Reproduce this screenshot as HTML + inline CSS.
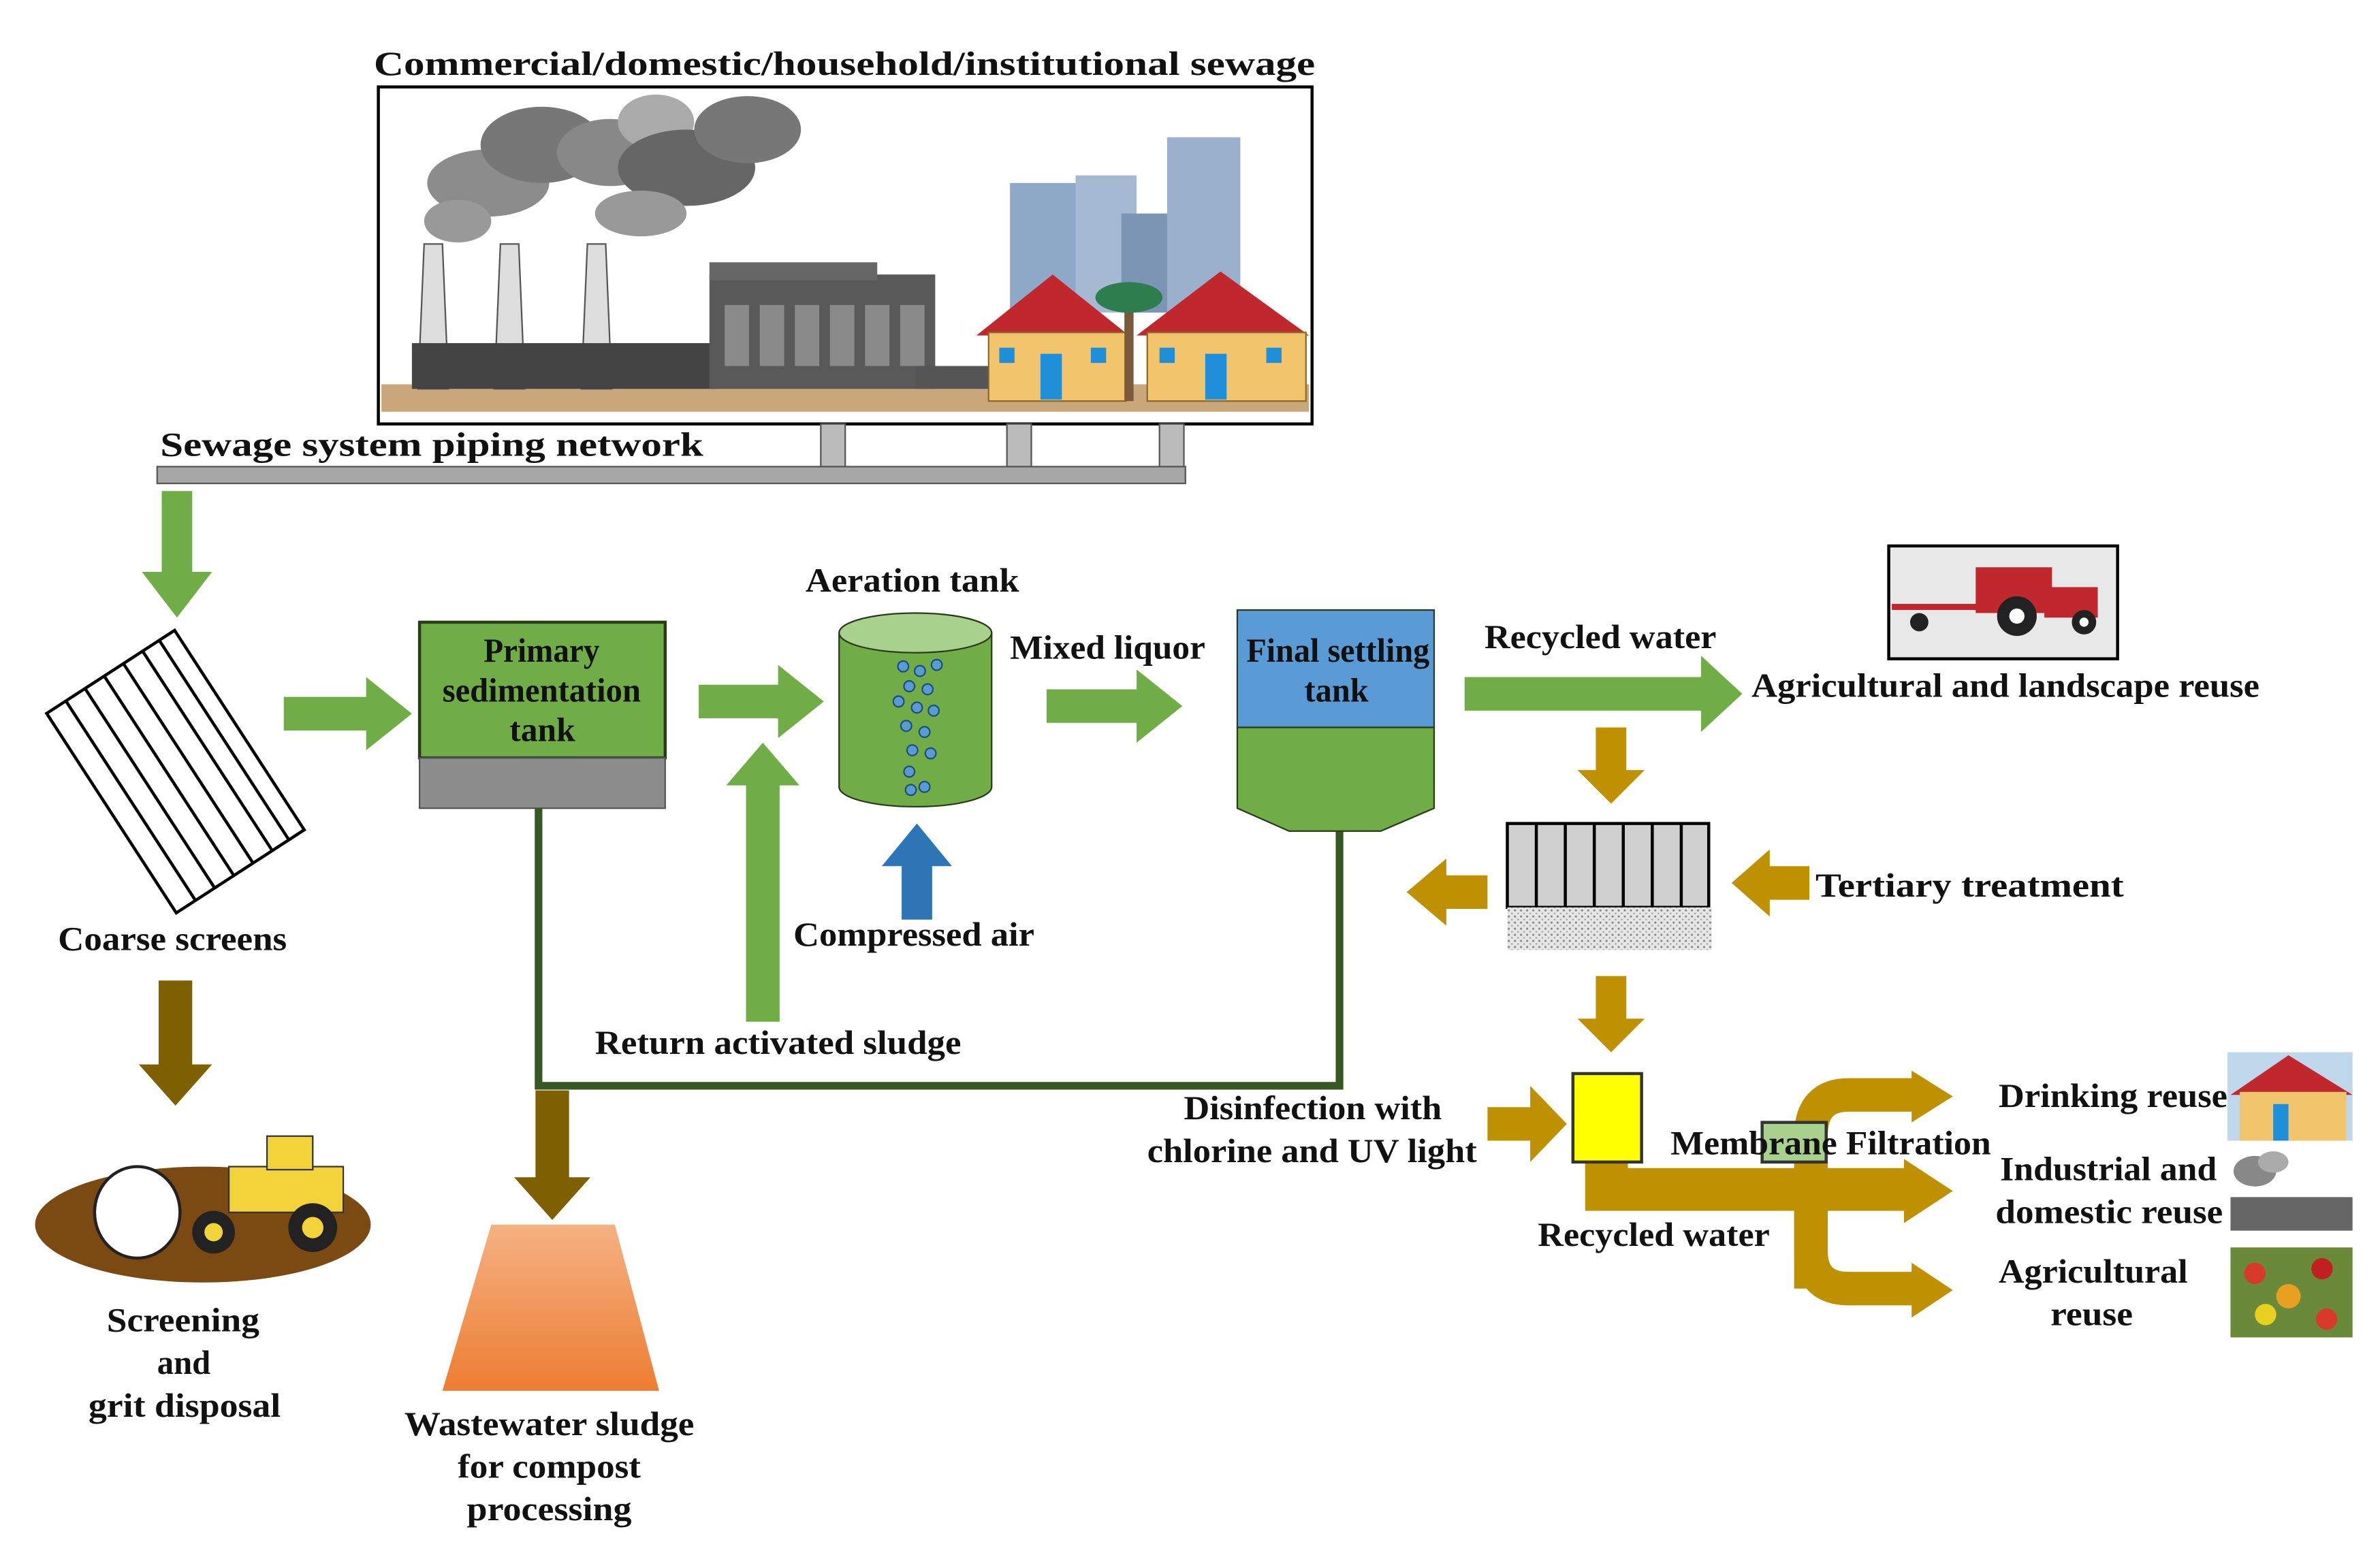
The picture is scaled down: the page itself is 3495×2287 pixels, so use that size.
<!DOCTYPE html>
<html><head><meta charset="utf-8"><style>
html,body{margin:0;padding:0;background:#fff;}
svg{display:block;}
text{font-family:"Liberation Serif",serif;font-weight:bold;font-size:22px;fill:#111;}
</style></head><body>
<svg width="3495" height="2287" viewBox="0 0 1560 1021" preserveAspectRatio="none" xmlns="http://www.w3.org/2000/svg">
<defs>
<linearGradient id="og" x1="0" y1="0" x2="0" y2="1"><stop offset="0" stop-color="#F4B183"/><stop offset="1" stop-color="#ED7D31"/></linearGradient>
<pattern id="dots" width="4" height="4" patternUnits="userSpaceOnUse"><rect width="4" height="4" fill="#e6e6e6"/><circle cx="1" cy="1" r="0.7" fill="#888"/><circle cx="3" cy="3" r="0.6" fill="#aaa"/></pattern>
</defs>

<text x="245" y="49" font-size="23" textLength="617" lengthAdjust="spacingAndGlyphs">Commercial/domestic/household/institutional  sewage</text>
<rect x="248" y="57" width="612" height="221" fill="#fff" stroke="#000" stroke-width="2"/>
<rect x="250" y="252" width="608" height="18" fill="#C9A77A"/>
<g fill="#8c8c8c">
<ellipse cx="320" cy="120" rx="40" ry="22"/><ellipse cx="355" cy="95" rx="40" ry="25" fill="#777"/><ellipse cx="300" cy="145" rx="22" ry="14" fill="#999"/>
<ellipse cx="400" cy="100" rx="35" ry="22" fill="#888"/><ellipse cx="430" cy="80" rx="25" ry="18" fill="#aaa"/>
<ellipse cx="450" cy="110" rx="45" ry="25" fill="#666"/><ellipse cx="490" cy="85" rx="35" ry="22" fill="#777"/><ellipse cx="420" cy="140" rx="30" ry="15" fill="#999"/>
</g>
<polygon points="278,160 290,160 294,255 274,255" fill="#ddd" stroke="#555"/>
<polygon points="328,160 340,160 344,255 324,255" fill="#ddd" stroke="#555"/>
<polygon points="385,160 397,160 401,255 381,255" fill="#ddd" stroke="#555"/>
<rect x="270" y="225" width="200" height="30" fill="#444"/>
<rect x="465" y="180" width="148" height="75" fill="#595959"/>
<rect x="465" y="172" width="110" height="12" fill="#666"/>
<g fill="#8a8a8a"><rect x="475" y="200" width="16" height="40"/><rect x="498" y="200" width="16" height="40"/><rect x="521" y="200" width="16" height="40"/><rect x="544" y="200" width="16" height="40"/><rect x="567" y="200" width="16" height="40"/><rect x="590" y="200" width="16" height="40"/></g>
<rect x="600" y="240" width="55" height="15" fill="#555"/>
<rect x="662" y="120" width="45" height="85" fill="#8EA9C8"/>
<rect x="705" y="115" width="40" height="90" fill="#A6B9D3"/>
<rect x="735" y="140" width="35" height="65" fill="#7C95B5"/>
<rect x="765" y="90" width="48" height="115" fill="#9AB0CC"/>
<polygon points="640,220 690,180 740,220" fill="#C0282E"/>
<rect x="648" y="218" width="90" height="45" fill="#F2C46B" stroke="#8a6a2a"/>
<rect x="682" y="232" width="14" height="30" fill="#1E8FD8"/>
<rect x="655" y="228" width="10" height="10" fill="#1E8FD8"/><rect x="715" y="228" width="10" height="10" fill="#1E8FD8"/>
<polygon points="745,220 800,178 858,220" fill="#C0282E"/>
<rect x="752" y="218" width="104" height="45" fill="#F2C46B" stroke="#8a6a2a"/>
<rect x="790" y="232" width="14" height="30" fill="#1E8FD8"/>
<rect x="760" y="228" width="10" height="10" fill="#1E8FD8"/><rect x="830" y="228" width="10" height="10" fill="#1E8FD8"/>
<rect x="737" y="195" width="6" height="68" fill="#7a5a3a"/>
<ellipse cx="740" cy="195" rx="22" ry="10" fill="#2E7D4F"/>
<rect x="538" y="278" width="16" height="28" fill="#bbb" stroke="#555"/>
<rect x="660" y="278" width="16" height="28" fill="#bbb" stroke="#555"/>
<rect x="760" y="278" width="16" height="28" fill="#bbb" stroke="#555"/>
<text x="105" y="299" font-size="23" textLength="356" lengthAdjust="spacingAndGlyphs">Sewage system piping network</text>
<rect x="103" y="306" width="674" height="11" fill="#A6A6A6" stroke="#555"/>

<polygon points="106,322 126,322 126,375 139,375 116,405 93,375 106,375" fill="#70AD47"/>
<g transform="rotate(-33 115 506)">
<rect x="65" y="428" width="100" height="156" fill="#fff" stroke="#000" stroke-width="2"/>
<g stroke="#000" stroke-width="2"><line x1="80" y1="428" x2="80" y2="584"/><line x1="95" y1="428" x2="95" y2="584"/><line x1="110" y1="428" x2="110" y2="584"/><line x1="125" y1="428" x2="125" y2="584"/><line x1="140" y1="428" x2="140" y2="584"/><line x1="153" y1="428" x2="153" y2="584"/></g>
</g>
<text x="38" y="623" textLength="150" lengthAdjust="spacingAndGlyphs">Coarse screens</text>
<polygon points="104,643 126,643 126,698 139,698 115,725 91,698 104,698" fill="#7F6000"/>
<ellipse cx="133" cy="803" rx="110" ry="38" fill="#7B4A12"/>
<ellipse cx="90" cy="795" rx="28" ry="30" fill="#fff" stroke="#222" stroke-width="2"/>
<rect x="150" y="765" width="75" height="30" fill="#F2D43A" stroke="#333"/>
<rect x="175" y="745" width="30" height="22" fill="#F2D43A" stroke="#333"/>
<circle cx="140" cy="808" r="14" fill="#222"/><circle cx="140" cy="808" r="6" fill="#F2D43A"/>
<circle cx="205" cy="805" r="16" fill="#222"/><circle cx="205" cy="805" r="7" fill="#F2D43A"/>
<text x="70" y="873" textLength="100" lengthAdjust="spacingAndGlyphs">Screening</text>
<text x="103" y="901" textLength="35" lengthAdjust="spacingAndGlyphs">and</text>
<text x="58" y="929" textLength="126" lengthAdjust="spacingAndGlyphs">grit disposal</text>

<polygon points="186,457 240,457 240,444 270,468 240,492 240,479 186,479" fill="#70AD47"/>
<rect x="275" y="408" width="161" height="89" fill="#70AD47" stroke="#2b3b1a" stroke-width="2"/>
<rect x="275" y="497" width="161" height="33" fill="#8c8c8c" stroke="#555"/>
<text x="317" y="434" textLength="76" lengthAdjust="spacingAndGlyphs">Primary</text>
<text x="290" y="460" textLength="130" lengthAdjust="spacingAndGlyphs">sedimentation</text>
<text x="334" y="486" textLength="43" lengthAdjust="spacingAndGlyphs">tank</text>
<polyline points="353,530 353,712 878,712 878,545" fill="none" stroke="#385723" stroke-width="5"/>
<polygon points="351,715 373,715 373,772 387,772 362,800 337,772 351,772" fill="#7F6000"/>
<polygon points="322,803 403,803 432,912 290,912" fill="url(#og)"/>
<text x="265" y="941" textLength="190" lengthAdjust="spacingAndGlyphs">Wastewater sludge</text>
<text x="300" y="969" textLength="120" lengthAdjust="spacingAndGlyphs">for compost</text>
<text x="306" y="997" textLength="108" lengthAdjust="spacingAndGlyphs">processing</text>

<polygon points="458,449 510,449 510,436 540,460 510,484 510,471 458,471" fill="#70AD47"/>
<polygon points="489,670 511,670 511,515 524,515 500,487 476,515 489,515" fill="#70AD47"/>
<text x="390" y="691" textLength="240" lengthAdjust="spacingAndGlyphs">Return activated sludge</text>
<text x="528" y="388" textLength="140" lengthAdjust="spacingAndGlyphs">Aeration tank</text>
<path d="M550,415 L550,516 A50,13 0 0 0 650,516 L650,415 Z" fill="#70AD47" stroke="#2b3b1a"/>
<ellipse cx="600" cy="415" rx="50" ry="13" fill="#A9D18E" stroke="#2b3b1a"/>
<g fill="#5B9BD5" stroke="#1F4E79" stroke-width="1">
<circle cx="592" cy="437" r="3.5"/><circle cx="603" cy="440" r="3.5"/><circle cx="614" cy="436" r="3.5"/>
<circle cx="596" cy="450" r="3.5"/><circle cx="608" cy="452" r="3.5"/><circle cx="589" cy="460" r="3.5"/>
<circle cx="601" cy="464" r="3.5"/><circle cx="612" cy="466" r="3.5"/><circle cx="594" cy="476" r="3.5"/>
<circle cx="606" cy="480" r="3.5"/><circle cx="598" cy="492" r="3.5"/><circle cx="610" cy="494" r="3.5"/>
<circle cx="596" cy="506" r="3.5"/><circle cx="606" cy="516" r="3.5"/><circle cx="597" cy="518" r="3.5"/>
</g>
<polygon points="591,603 611,603 611,568 624,568 601,540 578,568 591,568" fill="#2E75B6"/>
<text x="520" y="620" textLength="158" lengthAdjust="spacingAndGlyphs">Compressed air</text>
<text x="662" y="432" textLength="128" lengthAdjust="spacingAndGlyphs">Mixed liquor</text>
<polygon points="686,452 745,452 745,439 775,463 745,487 745,474 686,474" fill="#70AD47"/>
<rect x="811" y="400" width="129" height="77" fill="#5B9BD5" stroke="#2b3b1a"/>
<path d="M811,477 L940,477 L940,530 L905,545 L845,545 L811,530 Z" fill="#70AD47" stroke="#2b3b1a"/>
<text x="817" y="434" textLength="120" lengthAdjust="spacingAndGlyphs">Final settling</text>
<text x="855" y="460" textLength="42" lengthAdjust="spacingAndGlyphs">tank</text>
<text x="973" y="425" textLength="152" lengthAdjust="spacingAndGlyphs">Recycled water</text>
<polygon points="960,444 1115,444 1115,430 1142,455 1115,480 1115,466 960,466" fill="#70AD47"/>
<rect x="1238" y="358" width="150" height="74" fill="#e8e8e8" stroke="#000" stroke-width="2"/>
<rect x="1240" y="396" width="60" height="4" fill="#C0282E"/>
<rect x="1295" y="372" width="50" height="30" fill="#C0282E"/><rect x="1340" y="385" width="35" height="20" fill="#C0282E"/>
<circle cx="1322" cy="404" r="13" fill="#222"/><circle cx="1322" cy="404" r="5" fill="#fff"/>
<circle cx="1366" cy="408" r="8" fill="#222"/><circle cx="1366" cy="408" r="3" fill="#fff"/>
<circle cx="1258" cy="408" r="6" fill="#222"/>
<text x="1148" y="457" textLength="333" lengthAdjust="spacingAndGlyphs">Agricultural and landscape reuse</text>
<polygon points="1046,477 1066,477 1066,505 1078,505 1056,527 1034,505 1046,505" fill="#BF9000"/>
<rect x="988" y="540" width="132" height="55" fill="#d0d0d0" stroke="#000" stroke-width="2"/>
<g stroke="#000" stroke-width="2"><line x1="1007" y1="540" x2="1007" y2="595"/><line x1="1026" y1="540" x2="1026" y2="595"/><line x1="1045" y1="540" x2="1045" y2="595"/><line x1="1064" y1="540" x2="1064" y2="595"/><line x1="1083" y1="540" x2="1083" y2="595"/><line x1="1102" y1="540" x2="1102" y2="595"/></g>
<rect x="988" y="595" width="134" height="28" fill="url(#dots)"/>
<polygon points="975,574 948,574 948,563 922,585 948,607 948,596 975,596" fill="#BF9000"/>
<polygon points="1186,568 1160,568 1160,557 1135,579 1160,601 1160,590 1186,590" fill="#BF9000"/>
<text x="1190" y="588" textLength="202" lengthAdjust="spacingAndGlyphs">Tertiary treatment</text>
<polygon points="1046,640 1066,640 1066,668 1078,668 1056,690 1034,668 1046,668" fill="#BF9000"/>
<text x="776" y="734" textLength="169" lengthAdjust="spacingAndGlyphs">Disinfection with</text>
<text x="752" y="762" textLength="216" lengthAdjust="spacingAndGlyphs">chlorine and UV light</text>
<polygon points="975,726 1003,726 1003,712 1027,737 1003,762 1003,748 975,748" fill="#BF9000"/>
<path d="M1053,762 L1053,780 L1250,780" fill="none" stroke="#BF9000" stroke-width="28"/>
<polygon points="1248,760 1280,781 1248,802" fill="#BF9000"/>
<path d="M1187,845 L1187,745 Q1187,718 1212,718 L1255,718" fill="none" stroke="#BF9000" stroke-width="22"/>
<path d="M1187,780 L1187,820 Q1187,845 1212,845 L1255,845" fill="none" stroke="#BF9000" stroke-width="22"/>
<polygon points="1253,702 1280,719 1253,736" fill="#BF9000"/>
<polygon points="1253,828 1280,846 1253,864" fill="#BF9000"/>
<rect x="1031" y="704" width="45" height="58" fill="#FFFF00" stroke="#333" stroke-width="2"/>
<rect x="1155" y="736" width="42" height="26" fill="#A9D18E" stroke="#333" stroke-width="2"/>
<text x="1095" y="757" textLength="210" lengthAdjust="spacingAndGlyphs">Membrane Filtration</text>
<text x="1008" y="817" textLength="152" lengthAdjust="spacingAndGlyphs">Recycled water</text>
<text x="1310" y="726" textLength="150" lengthAdjust="spacingAndGlyphs">Drinking reuse</text>
<text x="1311" y="774" textLength="142" lengthAdjust="spacingAndGlyphs">Industrial and</text>
<text x="1308" y="802" textLength="149" lengthAdjust="spacingAndGlyphs">domestic reuse</text>
<text x="1310" y="841" textLength="124" lengthAdjust="spacingAndGlyphs">Agricultural</text>
<text x="1344" y="869" textLength="54" lengthAdjust="spacingAndGlyphs">reuse</text>
<rect x="1460" y="690" width="82" height="58" fill="#BFD7EA"/>
<polygon points="1462,718 1500,692 1542,718" fill="#C0282E"/>
<rect x="1468" y="716" width="70" height="32" fill="#F2C46B"/>
<rect x="1490" y="724" width="10" height="24" fill="#1E8FD8"/>
<rect x="1460" y="755" width="82" height="53" fill="#fff"/>
<ellipse cx="1478" cy="768" rx="14" ry="10" fill="#888"/><ellipse cx="1490" cy="762" rx="10" ry="7" fill="#aaa"/>
<rect x="1462" y="785" width="80" height="22" fill="#666"/>
<rect x="1462" y="818" width="80" height="59" fill="#6a8a3a"/>
<circle cx="1478" cy="835" r="7" fill="#D83A2A"/><circle cx="1500" cy="850" r="8" fill="#E8A020"/><circle cx="1522" cy="832" r="7" fill="#C02020"/>
<circle cx="1485" cy="862" r="7" fill="#E8D020"/><circle cx="1525" cy="865" r="7" fill="#D83A2A"/>
</svg>
</body></html>
